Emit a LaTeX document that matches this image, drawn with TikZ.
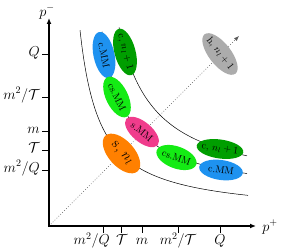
\documentclass[tikz,border=0pt]{standalone}
\usepackage{fontspec}
\usetikzlibrary{shapes.geometric,arrows.meta}
\definecolor{cblue}{RGB}{30,146,240}
\definecolor{cdkgreen}{RGB}{0,158,0}
\definecolor{clgreen}{RGB}{20,235,20}
\definecolor{cpink}{RGB}{240,60,140}
\definecolor{corange}{RGB}{255,128,0}
\definecolor{cgray}{RGB}{172,172,172}
% #1 name, #2 centre, #3 angle, #4 x radius, #5 y radius, #6 colour, #7 text
\newcommand{\mymode}[7]{%
  \fill[#6, rotate around={#3:(#2)}] (#2) ellipse [x radius=#4, y radius=#5];
  \node[modetext, rotate=#3] (#1) at (#2) {#7};}
\begin{document}
\begin{tikzpicture}[x=1pt,y=1pt,
  modetext/.style={inner sep=0pt, font=\fontsize{10}{12}\selectfont},
  axislabel/.style={font=\fontsize{14.4}{17}\selectfont, inner sep=0pt},
  axisname/.style={font=\fontsize{14.4}{17}\selectfont, inner sep=0pt},
  axisline/.style={line width=1.4pt, {Latex[length=6pt,width=5pt]}-{Latex[length=6pt,width=5pt]}},
  tickline/.style={line width=0.8pt},
  curve/.style={line width=0.5pt},
  diag/.style={dotted, line width=0.7pt, black!65, -{Latex[length=5pt,width=4pt]}}]
\useasboundingbox (0,0) rectangle (282,252);
\coordinate (O) at (49,26);
\coordinate (ytop) at (49,234);
\coordinate (xend) at (256,26);
\coordinate (dend) at (239,216);
% diagonal
\draw[diag] (O) -- (dend);
% hyperbolas
\draw[curve] plot[domain=31:199, samples=90, smooth] ({49+\x},{26+10.7+3758/(\x-10.7)});
\draw[curve] plot[domain=53:198, samples=90, smooth] ({49+\x},{26+28+4160/(\x-28)});
\draw[curve] plot[domain=70:198, samples=90, smooth] ({49+\x},{26+34+5929/(\x-34)});
% axes
\draw[axisline] (ytop) -- (O) -- (xend);
\node[axisname] (pminus) at (47,240) {$p^-$};
\node[axisname] (pplus) at (270,25) {$p^+$};
% y ticks
\draw[tickline] (42,198) -- (49,198);
\node[axislabel, anchor=mid east] (yQ) at (40,198) {$Q$};
\draw[tickline] (42,155) -- (49,155);
\node[axislabel, anchor=mid east] (ymT) at (40,155) {$m^2/\mathcal{T}$};
\draw[tickline] (42,121) -- (49,121);
\node[axislabel, anchor=mid east] (ym) at (40,121) {$m$};
\draw[tickline] (42,102) -- (49,102);
\node[axislabel, anchor=mid east] (yT) at (40,102) {$\mathcal{T}$};
\draw[tickline] (42,82) -- (49,82);
\node[axislabel, anchor=mid east] (ymQ) at (40,82) {$m^2/Q$};
% x ticks
\draw[tickline] (103,26) -- (103,19);
\node[axislabel, anchor=base east] (xmQ) at (110,7) {$m^2/Q$};
\draw[tickline] (121,26) -- (121,19);
\node[axislabel, anchor=base] (xT) at (122,7) {$\mathcal{T}$};
\draw[tickline] (142,26) -- (142,19);
\node[axislabel, anchor=base] (xm) at (142,7) {$m$};
\draw[tickline] (178,26) -- (178,19);
\node[axislabel, anchor=base] (xmT) at (178,7) {$m^2/\mathcal{T}$};
\draw[tickline] (220,26) -- (220,19);
\node[axislabel, anchor=base] (xQ) at (220,7) {$Q$};
% modes
\mymode{cmmT}{104,197}{-78}{23.5}{10.5}{cblue}{c.MM}
\mymode{cnlT}{125,200}{-75}{24}{10.5}{cdkgreen}{c, $n_l+1$}
\mymode{csmmT}{117,155}{-64}{22}{11}{clgreen}{cs.MM}
\mymode{smm}{142,120}{-40}{20.5}{10}{cpink}{s.MM}
\mymode{snl}{121.5,98.5}{-48}{24}{13}{corange}{\fontsize{14.4}{17}\selectfont s, $n_l$}
\mymode{csmmB}{176.5,94.5}{-20}{21}{11}{clgreen}{cs.MM}
\mymode{cnlB}{220,103}{-8}{23.5}{9.5}{cdkgreen}{c, $n_l+1$}
\mymode{cmmB}{221,82}{-8}{22}{10}{cblue}{c.MM}
\mymode{hnl}{220,198}{-52}{25}{11}{cgray}{h, $n_l+1$}
\end{tikzpicture}
\end{document}
